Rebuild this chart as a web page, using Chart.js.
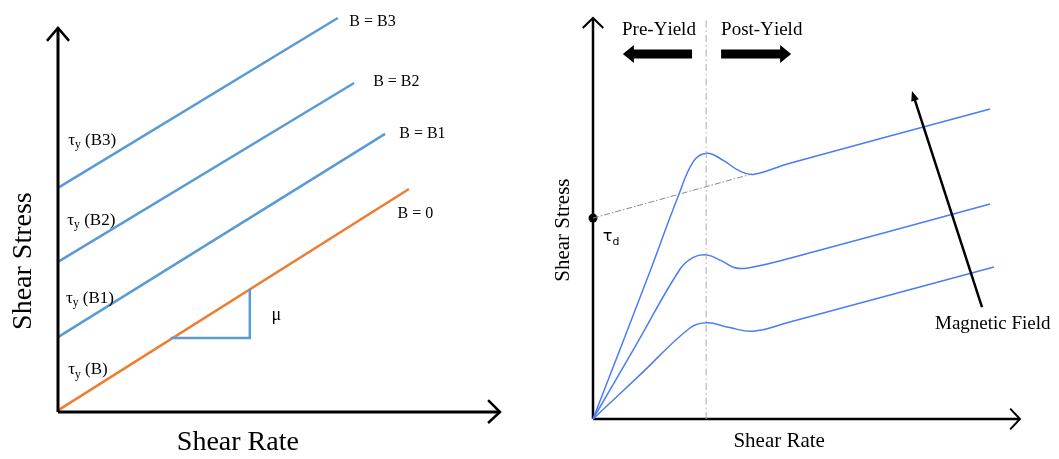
<!DOCTYPE html>
<html lang="en">
<head>
  <meta charset="UTF-8">
  <title>Shear Stress vs Shear Rate</title>
  <script src="https://cdn.jsdelivr.net/npm/chart.js"></script>
  <style>
    body { margin: 0; background: #fff; width: 1059px; height: 459px; overflow: hidden; position: relative; }
    .panel { position: absolute; top: 0; height: 459px; }
    #left { left: 0; width: 530px; }
    #right { left: 530px; width: 529px; }
  </style>
</head>
<body>
  <div class="panel" id="left"><canvas id="binghamChart" width="530" height="459"></canvas></div>
  <div class="panel" id="right"><canvas id="yieldChart" width="529" height="459"></canvas></div>

  <script>
    // ---- left panel: Bingham lines for each field strength ----
    const fieldNames  = ['B = 0', 'B = B1', 'B = B2', 'B = B3'];
    const stressStart = [0.04, 1.90, 3.81, 5.69];   // yield stress at zero rate
    const rateEnd     = [7.94, 7.40, 6.70, 6.33];
    const stressEnd   = [5.66, 7.06, 8.35, 10.0];
    const fieldLabelX = [7.68, 7.72, 7.13, 6.59];
    const fieldLabelY = [5.04, 7.07, 8.38, 9.91];
    const yieldLabels = ['τ_y (B)', 'τ_y (B1)', 'τ_y (B2)', 'τ_y (B3)'];
    const yieldLabelX = [0.23, 0.18, 0.21, 0.23];
    const yieldLabelY = [1.07, 2.89, 4.87, 6.90];
    const slopeRate   = [2.55, 4.34, 4.34];
    const slopeStress = [1.88, 1.88, 3.12];

    // ---- right panel: stress curves with pre/post-yield ----
    const topRate   = [0, 1.26, 1.99, 2.35, 2.67, 3.05, 3.44, 3.75, 4.61, 9.30];
    const topStress = [0, 3.47, 5.54, 6.42, 6.63, 6.45, 6.18, 6.10, 6.38, 7.73];
    const midRate   = [0, 1.00, 2.04, 2.35, 2.67, 3.00, 3.30, 3.60, 4.61, 9.30];
    const midStress = [0, 1.83, 3.74, 4.03, 4.09, 3.95, 3.78, 3.76, 4.01, 5.36];
    const lowRate   = [0, 1.10, 2.27, 2.67, 3.20, 3.75, 4.61, 9.39];
    const lowStress = [0, 1.10, 2.27, 2.40, 2.28, 2.19, 2.42, 3.79];
    const yieldRate = 2.65;
    const tauD      = 5.01;
    const tauDLine  = [[0, 5.01], [3.72, 6.11]];

    const pts = (xs, ys) => xs.map((x, i) => ({ x, y: ys[i] }));
    const seg = (a) => a.map(p => ({ x: p[0], y: p[1] }));

    function line(data, color, width, extra) {
      return Object.assign({
        data, borderColor: color, borderWidth: width, showLine: true,
        pointRadius: 0, fill: false, clip: false, tension: 0,
        borderCapStyle: 'butt', borderJoinStyle: 'miter'
      }, extra || {});
    }

    // text with "_x" subscripts, left aligned, vertically centred
    function richText(ctx, str, px, py, size, family) {
      let cx = px;
      for (let i = 0; i < str.length; i++) {
        let ch = str[i], sub = false;
        if (ch === '_' && i + 1 < str.length) { ch = str[++i]; sub = true; }
        const s = sub ? size * 0.68 : size;
        ctx.font = `${s}px ${family}`;
        ctx.fillText(ch, cx, sub ? py + size * 0.3 : py);
        cx += ctx.measureText(ch).width;
      }
    }

    function arrow(ctx, x1, y1, x2, y2, w, headLen, headW) {
      const a = Math.atan2(y2 - y1, x2 - x1);
      const bx = x2 - Math.cos(a) * headLen, by = y2 - Math.sin(a) * headLen;
      ctx.lineWidth = w;
      ctx.lineCap = 'butt';
      ctx.beginPath(); ctx.moveTo(x1, y1); ctx.lineTo(bx + Math.cos(a), by + Math.sin(a)); ctx.stroke();
      const nx = -Math.sin(a) * headW / 2, ny = Math.cos(a) * headW / 2;
      ctx.beginPath();
      ctx.moveTo(x2, y2); ctx.lineTo(bx + nx, by + ny); ctx.lineTo(bx - nx, by - ny);
      ctx.closePath(); ctx.fill();
    }

    function annotations(texts, arrows) {
      return {
        id: 'annotations',
        afterDatasetsDraw(chart) {
          const { ctx, scales: { x, y } } = chart;
          ctx.save();
          ctx.fillStyle = '#000';
          ctx.strokeStyle = '#000';
          ctx.textBaseline = 'middle';
          ctx.textAlign = 'left';
          texts.forEach(t => {
            const px = x.getPixelForValue(t.x), py = y.getPixelForValue(t.y);
            if (t.rotate) {
              ctx.save();
              ctx.translate(px, py);
              ctx.rotate(-Math.PI / 2);
              ctx.textAlign = 'center';
              ctx.font = `${t.size}px ${t.family}`;
              ctx.fillText(t.text, 0, 0);
              ctx.restore();
            } else if (t.center) {
              ctx.textAlign = 'center';
              ctx.font = `${t.size}px ${t.family}`;
              ctx.fillText(t.text, px, py);
              ctx.textAlign = 'left';
            } else {
              richText(ctx, t.text, px, py, t.size, t.family);
            }
          });
          arrows.forEach(a => {
            arrow(ctx, x.getPixelForValue(a.from[0]), y.getPixelForValue(a.from[1]),
                  x.getPixelForValue(a.to[0]), y.getPixelForValue(a.to[1]), a.w, a.len, a.head);
          });
          ctx.restore();
        }
      };
    }

    const serif = '"Liberation Serif", "Times New Roman", serif';
    const sans = '"DejaVu Sans", sans-serif';
    const blue = '#5b9bd5', orange = '#ed7d31', curveBlue = '#4a7df2';

    function baseOptions(pad) {
      return {
        responsive: false,
        animation: false,
        layout: { padding: pad },
        plugins: { legend: { display: false }, tooltip: { enabled: false } },
        scales: {
          x: { type: 'linear', min: 0, max: 10, display: false },
          y: { type: 'linear', min: 0, max: 10, display: false }
        }
      };
    }

    // ---------- left chart ----------
    const leftSets = [
      line(seg([[0, 0], [0, 9.75]]), '#000', 3),
      line(seg([[-0.25, 9.42], [0, 9.75], [0.25, 9.42]]), '#000', 2.5),
      line(seg([[0, 0], [10, 0]]), '#000', 3),
      line(seg([[9.73, 0.30], [10, 0], [9.73, -0.28]]), '#000', 2.5),
      line(pts(slopeRate, slopeStress), blue, 2.5)
    ];
    fieldNames.forEach((n, i) => {
      leftSets.push(line([{ x: 0, y: stressStart[i] }, { x: rateEnd[i], y: stressEnd[i] }],
        i === 0 ? orange : blue, 2.5));
    });
    const leftTexts = [];
    fieldNames.forEach((n, i) => leftTexts.push({ text: n, x: fieldLabelX[i], y: fieldLabelY[i], size: 16, family: serif }));
    yieldLabels.forEach((n, i) => leftTexts.push({ text: n, x: yieldLabelX[i], y: yieldLabelY[i], size: 17, family: serif }));
    leftTexts.push({ text: 'μ', x: 4.83, y: 2.46, size: 18, family: serif });
    leftTexts.push({ text: 'Shear Stress', x: -0.78, y: 3.83, size: 28, family: serif, rotate: true });
    leftTexts.push({ text: 'Shear Rate', x: 4.07, y: -0.79, size: 28, family: serif, center: true });

    new Chart(document.getElementById('binghamChart'), {
      type: 'scatter',
      data: { datasets: leftSets },
      options: baseOptions({ left: 58, top: 18, right: 30, bottom: 47 }),
      plugins: [annotations(leftTexts, [])]
    });

    // ---------- right chart ----------
    const dashDot = [7, 3, 1.5, 3];
    const curve = { tension: 0.4 };
    const rightSets = [
      line(seg([[yieldRate, 0], [yieldRate, 10]]), '#aaa', 1, { borderDash: dashDot }),
      line(seg(tauDLine), '#888', 1, { borderDash: [6, 2, 1.5, 2] }),
      line(pts(topRate, topStress), curveBlue, 1.5, curve),
      line(pts(midRate, midStress), curveBlue, 1.5, curve),
      line(pts(lowRate, lowStress), curveBlue, 1.5, curve),
      line(seg([[0, 0], [0, 10]]), '#000', 2.5),
      line(seg([[-0.24, 9.75], [0, 10], [0.24, 9.75]]), '#000', 2),
      line(seg([[0, 0], [10, 0]]), '#000', 2.5),
      line(seg([[9.77, 0.26], [10, 0], [9.77, -0.26]]), '#000', 2),
      { data: [{ x: 0, y: tauD }], pointRadius: 4.5, pointBackgroundColor: '#000', pointBorderWidth: 0, showLine: false, clip: false }
    ];
    const rightTexts = [
      { text: 'Pre-Yield', x: 0.68, y: 9.70, size: 19, family: serif },
      { text: 'Post-Yield', x: 3.00, y: 9.70, size: 19, family: serif },
      { text: 'Magnetic Field', x: 8.01, y: 2.37, size: 19, family: serif },
      { text: 'τ_d', x: 0.23, y: 4.54, size: 16, family: sans },
      { text: 'Shear Stress', x: -0.70, y: 4.71, size: 21, family: serif, rotate: true },
      { text: 'Shear Rate', x: 4.36, y: -0.57, size: 21, family: serif, center: true }
    ];
    const rightArrows = [
      { from: [2.32, 9.10], to: [0.70, 9.10], w: 9, len: 11, head: 18 },
      { from: [3.00, 9.10], to: [4.64, 9.10], w: 9, len: 11, head: 18 },
      { from: [9.11, 2.79], to: [7.47, 8.18], w: 2.5, len: 10, head: 8 }
    ];

    new Chart(document.getElementById('yieldChart'), {
      type: 'scatter',
      data: { datasets: rightSets },
      options: baseOptions({ left: 63, top: 18, right: 39, bottom: 40 }),
      plugins: [annotations(rightTexts, rightArrows)]
    });
  </script>
</body>
</html>
